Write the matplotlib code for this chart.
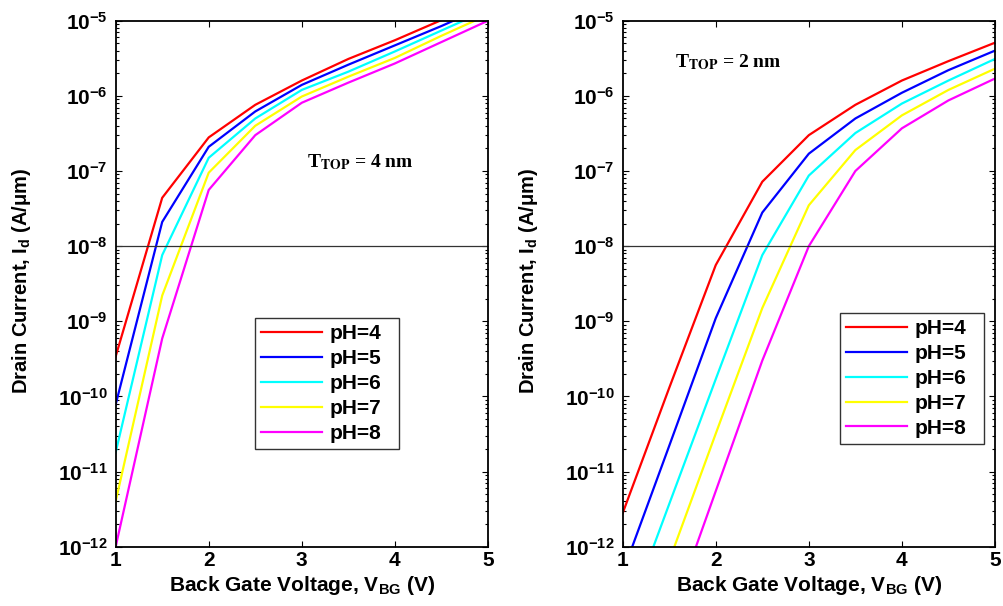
import numpy as np
import matplotlib
matplotlib.use("Agg")
from matplotlib import pyplot as plt
from matplotlib.ticker import LogLocator, FixedLocator, NullFormatter, FuncFormatter

plt.rcParams.update({
    "font.family": ["Liberation Sans", "DejaVu Sans"],
    "font.weight": "bold",
    "axes.labelweight": "bold",
    "mathtext.fontset": "custom",
    "mathtext.rm": "Liberation Sans:bold",
    "mathtext.bf": "Liberation Sans:bold",
    "mathtext.default": "bf",
})

# Back gate voltage sweep (V)
vbg = [1.0, 1.5, 2.0, 2.5, 3.0, 3.5, 4.0, 4.5, 5.0]
ph_labels = ["pH=4", "pH=5", "pH=6", "pH=7", "pH=8"]
colors = ["#ff0000", "#0000ff", "#00ffff", "#ffff00", "#ff00ff"]

# Drain current (A/um), T_TOP = 4 nm
id_4nm_ph4 = [3.4e-10, 4.4e-8, 2.8e-7, 7.6e-7, 1.6e-6, 3.1e-6, 5.5e-6, 1.02e-5, 1.8e-5]
id_4nm_ph5 = [7.8e-11, 2.1e-8, 2.1e-7, 6.2e-7, 1.4e-6, 2.6e-6, 4.7e-6, 8.5e-6, 1.6e-5]
id_4nm_ph6 = [1.8e-11, 7.6e-9, 1.5e-7, 5.0e-7, 1.2e-6, 2.1e-6, 3.9e-6, 7.4e-6, 1.4e-5]
id_4nm_ph7 = [4.0e-12, 2.2e-9, 9.5e-8, 4.0e-7, 9.8e-7, 1.8e-6, 3.2e-6, 6.3e-6, 1.2e-5]
id_4nm_ph8 = [1.0e-12, 5.9e-10, 5.6e-8, 3.0e-7, 8.1e-7, 1.5e-6, 2.7e-6, 5.2e-6, 1.0e-5]

# Drain current (A/um), T_TOP = 2 nm
id_2nm_ph4 = [2.8e-12, 1.3e-10, 5.6e-9, 7.2e-8, 3.0e-7, 7.6e-7, 1.6e-6, 2.9e-6, 5.1e-6]
id_2nm_ph5 = [4.5e-13, 2.2e-11, 1.1e-9, 2.8e-8, 1.7e-7, 5.0e-7, 1.1e-6, 2.2e-6, 4.0e-6]
id_2nm_ph6 = [7.9e-14, 3.7e-12, 1.7e-10, 7.6e-9, 8.7e-8, 3.2e-7, 7.9e-7, 1.6e-6, 3.1e-6]
id_2nm_ph7 = [1.3e-14, 6.5e-13, 3.2e-11, 1.5e-9, 3.5e-8, 1.9e-7, 5.5e-7, 1.2e-6, 2.3e-6]
id_2nm_ph8 = [2.0e-15, 1.0e-13, 5.5e-12, 3.0e-10, 1.0e-8, 1.0e-7, 3.7e-7, 8.7e-7, 1.7e-6]

i_ref = 1e-8

panels = [
    ([id_4nm_ph4, id_4nm_ph5, id_4nm_ph6, id_4nm_ph7, id_4nm_ph8],
     r"T$_{\mathbf{TOP}}$ = 4 nm", (3.06, 10**-6.95),
     [0.1152, 0.0978, 0.3708, 0.868], (0.254, 0.259, 0.143, 0.221)),
    ([id_2nm_ph4, id_2nm_ph5, id_2nm_ph6, id_2nm_ph7, id_2nm_ph8],
     r"T$_{\mathbf{TOP}}$ = 2 nm", (1.56, 10**-5.62),
     [0.6202, 0.0978, 0.3708, 0.868], (0.8367, 0.2673, 0.1434, 0.2195)),
]

fig = plt.figure(figsize=(10.04, 6.06), dpi=100)

for curves, ttl, tpos, rect, leg_box in panels:
    ax = fig.add_axes(rect)
    for y, c, lab in zip(curves, colors, ph_labels):
        ax.plot(vbg, y, color=c, lw=1.6, label=lab)
    ax.axhline(i_ref, color="#333333", lw=0.9)

    ax.set_yscale("log")
    ax.set_xlim(1, 5)
    ax.set_ylim(1e-12, 1e-5)
    ax.xaxis.set_major_locator(FixedLocator([1, 2, 3, 4, 5]))
    ax.yaxis.set_major_locator(LogLocator(base=10, numticks=20))
    ax.yaxis.set_minor_locator(LogLocator(base=10, subs=np.arange(2, 10), numticks=20))
    ax.yaxis.set_minor_formatter(NullFormatter())
    ax.yaxis.set_major_formatter(FuncFormatter(lambda v, p: r"$10^{%d}$" % round(np.log10(v))))
    ax.tick_params(which="both", direction="in", top=True, right=True, width=0.8)
    ax.tick_params(which="major", length=4, labelsize=15)
    ax.tick_params(axis="y", which="major", pad=6)
    ax.tick_params(axis="x", which="major", pad=3)
    ax.tick_params(which="minor", length=2.5)
    for lbl in ax.get_xticklabels():
        lbl.set_fontweight("bold")
    for s in ax.spines.values():
        s.set_linewidth(1.3)

    ax.set_xlabel(r"Back Gate Voltage, V$_{\mathbf{BG}}$ (V)", fontsize=15)
    ax.xaxis.set_label_coords(0.5, -0.052)
    ax.xaxis.label.set_va("top")
    ax.set_ylabel(r"Drain Current, I$_{\mathbf{d}}$ (A/μm)", fontsize=14.5)
    ax.yaxis.set_label_coords(-0.252, 0.505)
    ax.yaxis.label.set_va("center")

    ax.text(tpos[0], tpos[1], ttl, fontsize=14, fontweight="bold",
            family=["Liberation Serif", "DejaVu Serif"], math_fontfamily="stix",
            va="baseline")

    leg = ax.legend(loc="lower left", bbox_to_anchor=leg_box, bbox_transform=fig.transFigure,
                    mode="expand", fontsize=15, frameon=True, fancybox=False,
                    handlelength=2.9, labelspacing=0.28, borderaxespad=0, borderpad=0.3,
                    handletextpad=0.4)
    leg.get_frame().set_edgecolor("black")
    leg.get_frame().set_linewidth(1.0)
    for t in leg.get_texts():
        t.set_fontweight("bold")

fig.savefig("out.png", dpi=100)
